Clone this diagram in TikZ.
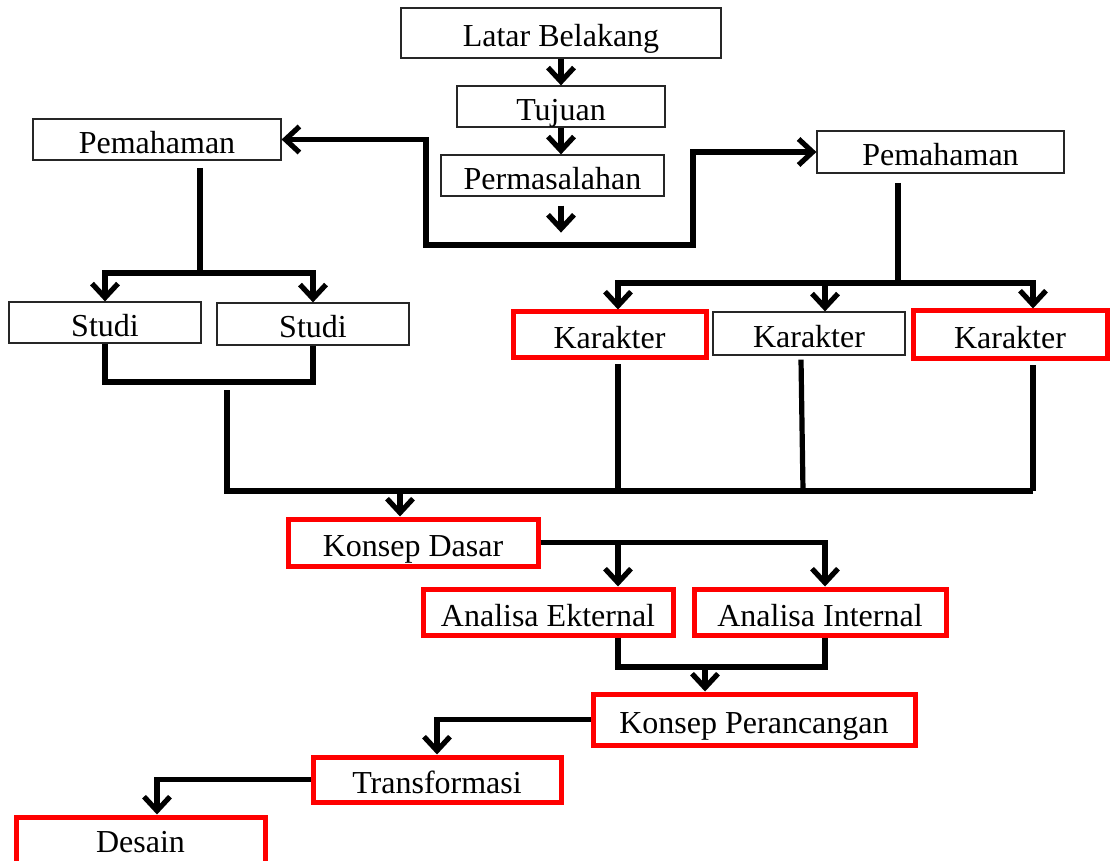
\documentclass[tikz,border=0pt]{standalone}
\usepackage{fontspec}
\setmainfont{Liberation Serif}
\usetikzlibrary{arrows.meta}
\tikzset{
  >={Straight Barb[length=7pt,width=13pt]},
  box/.style={draw=#1,line width=0.6pt,inner sep=0pt,fill=white,
    text height=14pt,text depth=0pt,font=\fontsize{16}{18}\selectfont},
  box/.default=black!85,
  redbox/.style={box=red,line width=2.5pt},
  flow/.style={line width=2.6pt,draw=black},
}

\begin{document}
\begin{tikzpicture}[x=0.5pt,y=-0.5pt]
  \useasboundingbox (0,0) rectangle (1111,860);
  \clip (0,0) rectangle (1111,860);
  % plain boxes
  \foreach \n/\x/\y/\w/\h/\t in {
    lb/561/33/160pt/25pt/Latar Belakang,
    tj/561/106.5/104pt/20.5pt/Tujuan,
    pm/552.5/175.5/111.5pt/20.5pt/Permasalahan,
    pl/157/139.5/124pt/20.5pt/Pemahaman,
    pr/940.5/152/123.5pt/21pt/Pemahaman,
    s1/105/322.5/96pt/20.5pt/Studi,
    s2/313/324/96pt/21pt/Studi,
    k2/809/333.5/96pt/21.5pt/Karakter}
  {
    \node[box,minimum width=\w,minimum height=\h] (\n) at (\x,\y) {\t};
  }
  % red boxes
  \foreach \n/\x/\y/\w/\h/\t in {
    k1/609.5/335/96.5pt/23pt/Karakter,
    k3/1010/335/97pt/24pt/Karakter,
    kd/413/542.5/125pt/23.5pt/Konsep Dasar,
    ae/548/612/125pt/23pt/Analisa Ekternal,
    ai/820/612/126pt/23pt/Analisa Internal,
    kp/754/719.5/161pt/25.5pt/Konsep Perancangan,
    tf/437/779.5/124pt/22.5pt/Transformasi}
  {
    \node[redbox,minimum width=\w,minimum height=\h] (\n) at (\x,\y) {\t};
  }
  \node[redbox,text height=9pt,minimum width=124.5pt,minimum height=26.5pt] (ds) at (140.5,843.5) {Desain};
  % top column
  \draw[flow,->] (lb) -- (tj);
  \draw[flow,->] (tj.south) -- (tj.south |- pm.north);
  \draw[flow,->] ([yshift=-4.5pt]tj.south |- pm.south) -- ++(0,27);
  \draw[flow,<->] (pl.east) -| (426,245) -- (693,245) |- (pr.west);
  % left branch
  \coordinate (lsplit) at (200,273);
  \draw[flow] (200,168) -- (lsplit);
  \draw[flow,->] (lsplit) -| (s1.north);
  \draw[flow,->] (lsplit) -| (s2.north);
  \draw[flow] (s1.south) -- (105,382) -| (s2.south);
  % right branch
  \coordinate (rsplit) at (898,283);
  \draw[flow] (898,183) -- (rsplit);
  \draw[flow,->] (rsplit) -| ([xshift=4.25pt]k1.north);
  \draw[flow,->] (rsplit) -| ([xshift=8pt]k2.north);
  \draw[flow,->] (rsplit) -| ([xshift=11.5pt]k3.north);
  % collecting bus
  \coordinate (busL) at (227,491);
  \coordinate (busR) at (1033,491);
  \draw[flow] (227,390) -- (busL) -- (busR);
  \draw[flow] ([xshift=4.25pt,yshift=-2pt]k1.south) -- ([xshift=4.25pt]k1.south |- busL);
  \draw[flow] ([xshift=-4pt,yshift=-2pt]k2.south) -- ([xshift=-3pt]k2.south |- busL);
  \draw[flow] ([xshift=11.5pt,yshift=-2pt]k3.south) -- (busR);
  \draw[flow,->] (400,491) -- ([xshift=-6.5pt]kd.north);
  % concept chain
  \draw[flow,->] (kd.east) -| ([xshift=35pt]ae.north);
  \draw[flow,->] (kd.east) -| ([xshift=2.5pt]ai.north);
  \coordinate (ajoin) at (705,667);
  \draw[flow] ([xshift=35pt]ae.south) |- (ajoin) -| ([xshift=2.5pt]ai.south);
  \draw[flow,->] (ajoin) -- ([xshift=-24.5pt]kp.north);
  \draw[flow,->] (kp.west) -| (tf.north);
  \draw[flow,->] (tf.west) -| ([xshift=8.25pt]ds.north);
\end{tikzpicture}
\end{document}
